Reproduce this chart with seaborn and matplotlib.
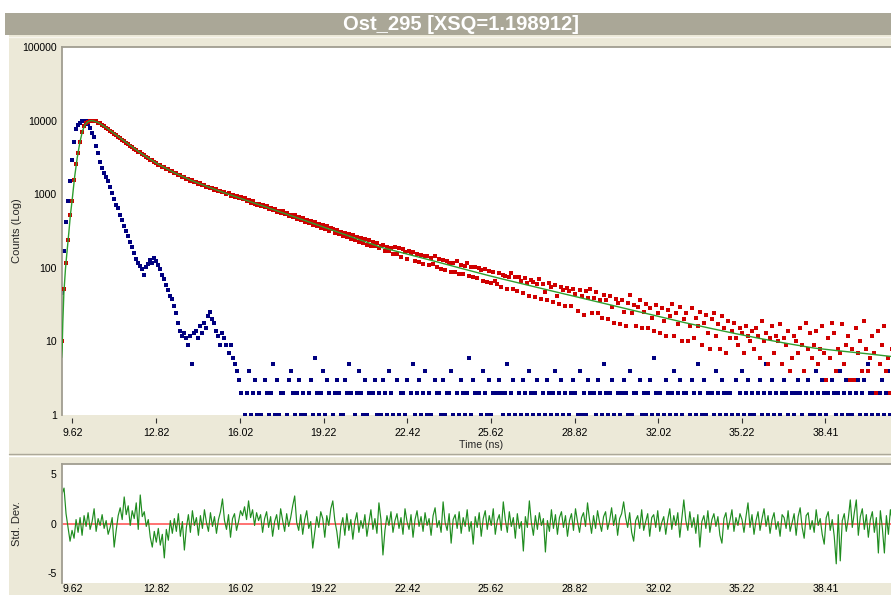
import numpy as np
import pandas as pd
import matplotlib
matplotlib.use("Agg")
import matplotlib.pyplot as plt
import seaborn as sns
from matplotlib.patches import Rectangle
from matplotlib.lines import Line2D
from matplotlib.ticker import NullLocator

sns.set_theme(style="white")
plt.rcParams['font.family'] = ['Liberation Sans', 'DejaVu Sans']

# ---------------- data ----------------
title = "Ost_295 [XSQ=1.198912]"
t_start_ns = 9.22
channel_ns = 0.0767

xtick_values = [9.62, 12.82, 16.02, 19.22, 22.42, 25.62, 28.82, 32.02, 35.22, 38.41]
xtick_labels = ["9.62", "12.82", "16.02", "19.22", "22.42", "25.62", "28.82", "32.02", "35.22", "38.41"]
ytick_values = [1, 10, 100, 1000, 10000, 100000]
ytick_labels = ["1", "10", "100", "1000", "10000", "100000"]
res_tick_values = [-5, 0, 5]
res_tick_labels = ["-5", "0", "5"]

decay_counts = [
    10, 52, 118, 240, 520, 820, 1550, 2600, 3600, 5200, 7000, 8400, 9200, 9700, 9950,
    10000, 9930, 9790, 9410, 9150, 8740, 8450, 8020, 7720, 7310,
    7030, 6650, 6410, 6050, 5840, 5500, 5300, 5020, 4850, 4570,
    4430, 4170, 4040, 3800, 3690, 3470, 3390, 3210, 3130, 2960,
    2890, 2730, 2680, 2530, 2500, 2370, 2340, 2220, 2190, 2080,
    2060, 1940, 1930, 1830, 1820, 1720, 1730, 1630, 1620, 1530,
    1540, 1460, 1470, 1390, 1400, 1320, 1330, 1260, 1270, 1200,
    1215, 1150, 1165, 1100, 1115, 1060, 1070, 1005, 1025, 960,
    990, 921, 951, 880, 902, 848, 880, 803, 826, 771,
    802, 747, 720, 745, 690, 716, 660, 688, 631, 655,
    611, 633, 574, 599, 551, 588, 530, 551, 502, 529,
    488, 514, 460, 487, 445, 471, 419, 452, 400, 431,
    385, 416, 368, 395, 349, 378, 337, 366, 315, 350,
    340, 300, 328, 285, 309, 270, 301, 262, 289, 250,
    277, 241, 263, 226, 255, 219, 246, 207, 236, 198,
    221, 197, 214, 183, 199, 204, 171, 190, 168, 186,
    152, 189, 153, 183, 141, 178, 166, 132, 170, 159,
    165, 123, 155, 120, 151, 113, 144, 144, 110, 137,
    114, 143, 102, 131, 97, 128, 92, 124, 117, 89,
    117, 89, 124, 83, 108, 82, 105, 116, 78, 102,
    74, 101, 73, 98, 92, 67, 97, 65, 90, 63,
    89, 66, 60, 86, 55, 81, 77, 52, 75, 84,
    52, 76, 48, 74, 67, 45, 72, 63, 41, 69,
    64, 40, 61, 70, 38, 60, 47, 37, 63, 55,
    34, 59, 42, 32, 55, 50, 30, 53, 48, 30,
    52, 44, 26, 50, 41, 23, 48, 39, 52, 24,
    39, 47, 24, 36, 21, 43, 36, 20, 41, 29,
    18, 38, 33, 17, 37, 25, 16, 33, 43, 24,
    31, 16, 29, 37, 15, 25, 32, 15, 28, 21,
    14, 31, 24, 13, 28, 19, 12, 27, 22, 32,
    12, 24, 17, 29, 10, 20, 24, 10, 16, 28,
    11, 21, 16, 25, 9, 18, 23, 13, 8, 20,
    24, 12, 17, 8, 22, 15, 7, 19, 11, 14,
    18, 11, 9, 15, 13, 7, 16, 12, 10, 14,
    8, 15, 12, 6, 19, 10, 13, 5, 11, 16,
    7, 12, 10, 17, 5, 11, 9, 14, 4, 6,
    12, 10, 7, 15, 9, 4, 18, 8, 13, 6,
    9, 14, 5, 8, 16, 7, 3, 11, 6, 18,
    13, 4, 8, 7, 17, 5, 9, 12, 3, 8,
    3, 15, 7, 10, 4, 19, 8, 4, 6, 12,
    7, 2, 14, 5, 9, 16, 4, 6, 2, 8,
]

irf_counts_head = [
    45, 170, 420, 800, 1500, 2900, 5100, 7600, 8800, 9400,
    9850, 9950, 10000, 9100, 7900, 6800, 5900, 4500, 3600, 2700,
    2300, 1950, 1700, 1500, 1250, 1050, 850, 720, 640, 520,
    440, 370, 320, 270, 225, 190, 160, 132, 118, 105,
    96, 80, 102, 112, 128, 118, 135, 122, 110, 95,
    80, 70, 58, 50, 42, 38, 30, 24, 18, 14,
    12, 13, 11, 9, 12, 5, 13, 14, 11, 16,
    13, 18, 15, 22, 25, 20, 18, 14, 12, 9,
    13, 11, 9, 7, 9, 6, 5, 4,
]

irf_counts_tail = [
    3, 2, 0, 1, 2, 4, 1, 2, 3, 1,
    2, 1, 0, 3, 2, 1, 2, 5, 1, 3,
    1, 2, 2, 0, 1, 3, 4, 2, 1, 2,
    3, 1, 2, 1, 0, 2, 3, 1, 6, 2,
    1, 2, 4, 1, 3, 2, 0, 1, 2, 3,
    2, 1, 1, 3, 2, 5, 2, 0, 1, 2,
    4, 2, 1, 3, 1, 2, 0, 2, 3, 1,
    2, 1, 3, 2, 1, 4, 2, 1, 0, 3,
    1, 2, 2, 1, 3, 0, 2, 5, 1, 2,
    3, 1, 2, 4, 1, 2, 1, 0, 3, 2,
    2, 1, 3, 1, 2, 2, 4, 1, 0, 2,
    1, 3, 2, 1, 2, 6, 1, 3, 2, 0,
    2, 1, 4, 2, 1, 3, 1, 2, 0, 2,
    3, 2, 1, 2, 5, 1, 2, 3, 1, 0,
    2, 1, 3, 2, 1, 4, 2, 1, 2, 3,
    1, 0, 2, 1, 3, 2, 1, 2, 4, 1,
    2, 3, 1, 2, 0, 1, 2, 3, 2, 1,
    4, 1, 2, 1, 3, 2, 0, 2, 1, 3,
    2, 1, 5, 2, 1, 2, 3, 1, 0, 2,
    1, 2, 3, 2, 1, 4, 1, 2, 2, 0,
    3, 1, 2, 1, 2, 3, 1, 6, 2, 1,
    2, 0, 1, 3, 2, 1, 2, 4, 1, 2,
    3, 1, 2, 2, 0, 1, 3, 2, 1, 5,
    2, 1, 3, 1, 2, 0, 2, 1, 4, 2,
    1, 3, 2, 1, 2, 2, 1, 0, 3, 1,
    2, 4, 1, 2, 3, 1, 2, 1, 0, 2,
    3, 1, 2, 5, 1, 2, 3, 1, 2, 0,
    1, 2, 3, 2, 1, 4, 2, 1, 2, 3,
    2, 1, 0, 2, 3, 1, 2, 1, 4, 2,
    1, 3, 2, 1, 2, 0, 3, 2, 1, 2,
    4, 1, 2, 3, 1, 2, 1, 0, 2, 3,
    1, 2, 3, 1, 5, 2, 1, 2, 0, 1,
    2, 3, 1, 2, 4, 1, 2,
]

fit_time = [9.20, 9.225, 9.25, 9.29, 9.35, 9.40, 9.48, 9.54, 9.61, 9.70, 9.80, 9.90,
            10.00, 10.10, 10.20, 10.30, 10.38, 10.60, 10.95, 11.59, 12.22, 12.86,
            13.50, 14.14, 14.80, 15.50, 16.20, 16.90, 17.59, 18.50, 19.50, 20.50,
            21.42, 22.50, 23.50, 24.50, 25.50, 26.02, 27.0, 28.0, 29.0, 30.0, 31.0,
            32.0, 33.0, 34.0, 35.0, 36.0, 37.0, 38.0, 39.0, 40.0, 41.0]
fit_counts = [6, 8, 18, 45, 95, 150, 300, 520, 850, 1700, 3100, 5000,
              7200, 8800, 9600, 9950, 10000, 9440, 7850, 5310, 3630, 2600,
              1970, 1550, 1260, 1023, 841, 692, 570, 440, 330, 248,
              190, 151, 122, 98, 79, 71, 58.5, 48, 39.5, 32.5, 26.7,
              22, 18.1, 15.1, 12.7, 10.8, 9.3, 8.1, 7.4, 6.8, 6.2]

residuals = [
    3.0, 3.6, 1.0, -0.4, -1.8, -0.7, -1.5, 0.4, -0.9, 0.6,
    -1.2, 0.8, -0.3, 1.1, -0.6, 0.2, 1.5, -0.8, 0.5, -0.2,
    0.9, -0.5, 0.3, -1.1, -0.4, 0.6, -2.4, -0.7, 0.8, 1.6,
    0.4, 2.7, 0.9, 1.8, -0.2, 1.3, 0.5, 2.1, -0.6, 2.9,
    0.7, 1.2, -0.3, 0.4, -1.4, -2.4, -0.8, -1.9, -0.5, -2.2,
    -1.1, -3.5, -0.6, -1.7, 0.3, -1.0, 0.5, -0.8, 1.0, -1.3,
    0.2, -2.7, -0.4, 0.9, -0.9, 1.3, -0.2, 0.6, -1.2, 0.8,
    -0.5, 1.4, 0.1, -0.8, 1.1, -0.3, 0.7, -1.0, 0.4, 1.2,
    2.5, 0.3, -0.6, 0.9, -1.4, 0.5, 1.0, -0.7, 0.2, 1.3,
    0.8, 1.7, 0.4, 2.3, 0.6, 1.4, -0.2, 1.1, 0.3, 0.9,
    -0.9, 0.5, 1.2, -0.4, 0.7, -1.3, 0.2, 0.9, -0.6, 1.5,
    0.3, -0.8, 1.0, -0.3, 0.6, 1.8, 2.8, 0.1, -0.7, 0.9,
    -1.1, 0.4, 1.3, -0.5, 0.2, -2.5, -0.9, 0.7, -0.4, 1.2,
    0.5, -1.4, 0.8, -0.2, 1.5, 2.3, 0.3, -0.8, -2.5, -0.3,
    0.6, -1.2, 1.0, -0.7, 0.4, -1.6, 0.2, 1.1, -0.9, 0.3,
    -0.5, 0.9, -1.3, 0.1, 1.4, -0.6, 0.5, -1.0, 2.1, 0.4,
    -3.2, -0.7, 0.8, -0.2, 1.2, -0.9, 0.3, 1.0, -0.5, 0.6,
    -1.1, 1.5, 0.2, -0.6, 0.9, -1.4, 0.4, 1.3, -0.3, 0.7,
    -0.8, 1.1, -0.2, 0.5, -1.2, 0.8, 1.6, -0.4, 0.3, -0.9,
    2.2, 0.1, -0.7, 1.0, -2.0, 0.4, 0.9, -0.5, 1.2, -1.0,
    0.6, -0.3, 1.4, -0.8, 0.2, -2.1, 0.7, -0.4, 1.1, -1.3,
    0.5, 1.3, -0.6, 0.8, -0.2, 1.5, -1.1, 0.3, 0.9, -0.7,
    2.2, 0.4, -0.9, 1.2, -0.3, 0.6, -1.5, 1.0, -0.5, 0.2,
    -2.8, 0.7, -0.4, 2.3, 0.1, -1.2, 0.8, -0.6, 1.1, -0.2,
    0.5, -2.9, 0.3, -0.8, 1.4, -0.5, 0.9, -1.1, 0.6, 1.2,
    -0.4, 0.8, -1.3, 0.3, 1.0, -0.7, 1.5, 0.2, -0.9, 0.6,
    1.1, -0.3, 2.1, 0.4, -1.0, 0.8, -0.5, 1.3, 0.1, -0.8,
    0.7, 1.2, -0.6, 0.3, 1.6, -0.2, 0.9, -1.2, 0.5, 1.0,
    2.2, 0.6, -0.4, 1.1, -0.9, -1.8, 0.3, 0.8, -0.5, 1.4,
    -0.7, 0.2, 1.0, -1.3, 0.6, 0.9, -0.4, 1.3, -0.8, 0.1,
    0.7, -1.1, 0.4, 1.5, -0.6, 0.8, -0.2, 1.1, -1.4, 0.5,
    2.4, 0.3, -0.7, 1.2, -0.4, 0.6, -1.0, 0.9, -2.4, 0.2,
    0.8, -0.5, 1.3, -0.9, 0.4, 1.0, -0.3, 0.7, -1.2, -2.0,
    0.5, 1.1, -0.6, 0.3, 1.4, -0.8, 0.6, -0.2, 1.0, 0.4,
    -0.9, 0.7, 2.1, -0.4, 0.9, -1.1, 0.3, 1.2, -0.7, 0.5,
    1.5, -0.3, 0.8, -1.0, 0.4, 1.1, -0.6, 0.2, -1.3, 0.9,
    0.6, -0.5, 1.3, -0.8, 0.1, 1.0, -1.2, 0.7, 1.6, -0.4,
    -1.5, 0.8, 1.1, -0.6, 0.3, -0.9, 1.4, -0.2, 0.5, -1.1,
    -2.1, 0.6, 1.2, -0.7, 0.4, -1.3, -4.1, 0.9, -3.8, 0.3,
    1.0, -0.8, 0.5, 2.4, -0.4, 1.1, 2.4, -1.2, 0.7, 1.5,
    -0.6, 0.9, -1.4, 0.4, 1.2, -0.9, 0.6, -3.0, 1.3, -0.5,
    -3.0, 0.8, -1.1, 1.4, 0.2,
]

# ---------------- frames ----------------
def channel_times(n):
    return t_start_ns + channel_ns * np.arange(n)

irf_counts = irf_counts_head + irf_counts_tail
df_decay = pd.DataFrame({"time": channel_times(len(decay_counts)), "counts": decay_counts})
df_irf = pd.DataFrame({"time": channel_times(len(irf_counts)), "counts": irf_counts})
df_irf = df_irf[df_irf["counts"] > 0]
df_fit = pd.DataFrame({"time": fit_time, "counts": fit_counts})
df_res = pd.DataFrame({"time": channel_times(len(residuals)), "res": residuals})

# ---------------- figure ----------------
W, H = 891, 595
BEIGE = "#ece9d8"
fig = plt.figure(figsize=(W / 100, H / 100), dpi=100, facecolor=BEIGE)

def px_rect(x0, y0, x1, y1, color, z=0):
    fig.patches.append(Rectangle((x0 / W, 1 - y1 / H), (x1 - x0) / W, (y1 - y0) / H,
                                 transform=fig.transFigure, facecolor=color,
                                 edgecolor="none", zorder=z))

def px_hline(y, x0, x1, color, lw=1.0):
    fig.lines.append(Line2D([x0 / W, x1 / W], [1 - y / H, 1 - y / H],
                            transform=fig.transFigure, color=color, lw=lw))

px_rect(0, 0, W, 13, "white")
px_rect(0, 0, 9, H, "white")
px_rect(5, 13, W, 35, "#aaa797")
px_hline(36.5, 9, W, "#f8f6ee", 1.0)
px_hline(453.5, 9, W, "#aca899", 1.0)
px_hline(455.5, 9, W, "#ffffff", 1.0)
fig.text(461 / W, 1 - 24.5 / H, title, color="white", fontsize=14.5,
         fontweight="bold", ha="center", va="center",
         family=["Liberation Sans", "DejaVu Sans"])

GRAY = "#a09d90"
FS = 7.6

# main axes
L, R = 61.5, 891
ax = fig.add_axes([L / W, 1 - 415 / H, (R - L) / W, (415 - 47) / H], facecolor="white")
sns.scatterplot(data=df_irf, x="time", y="counts", color="#000080", marker="s", s=5.5,
                linewidth=0, ax=ax, zorder=2)
sns.scatterplot(data=df_decay, x="time", y="counts", color="#d00000", marker="s", s=6,
                linewidth=0, ax=ax, zorder=3)
sns.lineplot(data=df_fit, x="time", y="counts", color="#2e9e2e", lw=1.0,
             estimator=None, sort=False, ax=ax, zorder=4)
ax.set_yscale("log")
ax.set_xlim(9.20, 40.92)
ax.set_ylim(1, 100000)
ax.set_yticks(ytick_values)
ax.set_yticklabels(ytick_labels)
ax.yaxis.set_minor_locator(NullLocator())
ax.set_xticks(xtick_values)
ax.set_xticklabels(xtick_labels)
ax.tick_params(axis="y", length=0, pad=3.5, labelsize=FS, colors="black")
ax.tick_params(axis="x", direction="out", length=3.5, width=0.8, color="#303030",
               pad=3.5, labelsize=FS, labelcolor="black", bottom=True)
ax.spines["bottom"].set_position(("outward", 2.2))
for s in ["bottom", "right"]:
    ax.spines[s].set_visible(False)
for s in ["left", "top"]:
    ax.spines[s].set_color(GRAY)
    ax.spines[s].set_linewidth(1.3)
ax.set_xlabel("Time (ns)", fontsize=FS)
ax.xaxis.set_label_coords((481 - L) / (R - L), -0.068)
ax.set_ylabel("Counts (Log)", fontsize=8)
ax.yaxis.set_label_coords(-0.048, 0.5)
ax.grid(False)

# residual axes
ax2 = fig.add_axes([L / W, 1 - 583 / H, (R - L) / W, (583 - 464) / H], facecolor="white")
ax2.axhline(0, color="#ff5a5a", lw=1.2, zorder=1)
sns.lineplot(data=df_res, x="time", y="res", color="#1f8c1f", lw=0.85,
             estimator=None, sort=False, ax=ax2, zorder=2)
ax2.set_xlim(9.20, 40.92)
ax2.set_ylim(-6.05, 6.05)
ax2.set_yticks(res_tick_values)
ax2.set_yticklabels(res_tick_labels)
ax2.set_xticks(xtick_values)
ax2.set_xticklabels(xtick_labels)
ax2.tick_params(axis="both", length=0, labelsize=FS, colors="black")
ax2.tick_params(axis="y", pad=3.5)
ax2.tick_params(axis="x", pad=1.0)
for s in ["bottom", "right"]:
    ax2.spines[s].set_visible(False)
for s in ["left", "top"]:
    ax2.spines[s].set_color(GRAY)
    ax2.spines[s].set_linewidth(1.3)
ax2.set_xlabel("")
ax2.set_ylabel("Std. Dev.", fontsize=8)
ax2.yaxis.set_label_coords(-0.048, 0.5)
ax2.grid(False)

fig.savefig("out.png", dpi=100, facecolor=BEIGE)
